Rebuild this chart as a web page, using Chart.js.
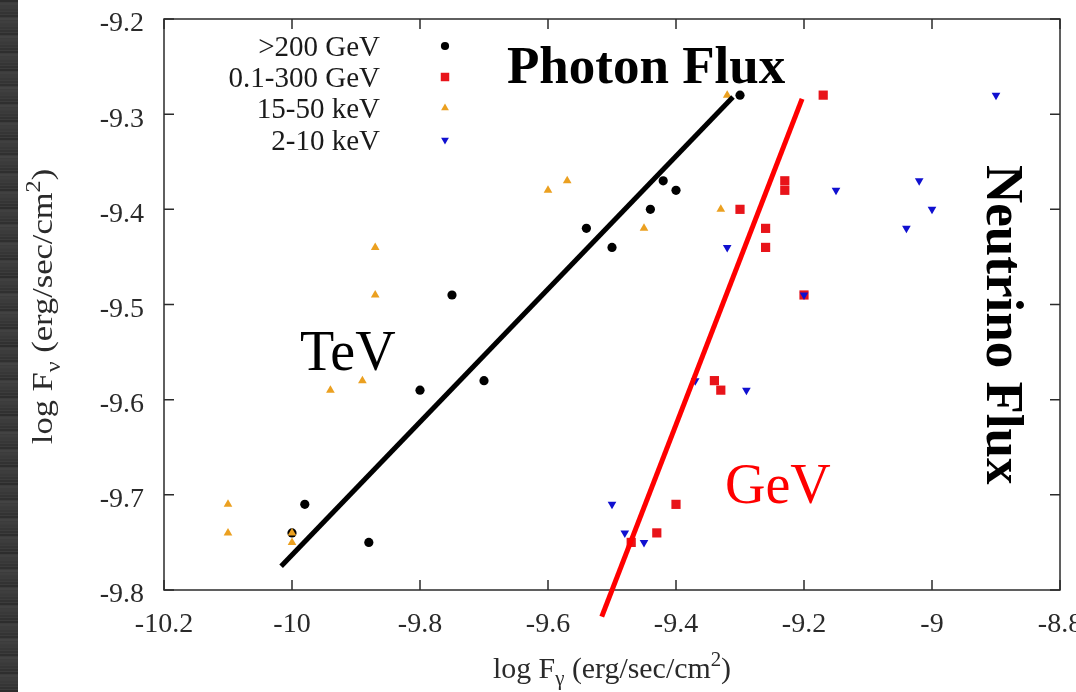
<!DOCTYPE html>
<html lang="en">
  <head>
    <meta charset="UTF-8" />
    <meta name="viewport" content="width=device-width, initial-scale=1.0" />
    <script src="https://cdn.jsdelivr.net/npm/chart.js@4.4.1/dist/chart.umd.min.js"></script>
    <title>Photon flux vs neutrino flux</title>
    <style>
      html, body { margin: 0; padding: 0; background: #fff; overflow: hidden; }
    </style>
  </head>
  <body>
    <canvas id="myChart" width="1076" height="692"></canvas>
    <script>
      // values (log F_gamma, log F_nu)
      // >200 GeV
      const tevX = [-9.30, -9.42, -9.40, -9.44, -9.54, -9.50, -9.75, -9.80, -9.70, -9.98, -10.0, -9.88];
      const tevY = [-9.28, -9.37, -9.38, -9.40, -9.42, -9.44, -9.49, -9.59, -9.58, -9.71, -9.74, -9.75];
      // 0.1-300 GeV
      const gevX = [-9.17, -9.23, -9.23, -9.30, -9.26, -9.26, -9.20, -9.34, -9.33, -9.40, -9.43, -9.47];
      const gevY = [-9.28, -9.37, -9.38, -9.40, -9.42, -9.44, -9.49, -9.58, -9.59, -9.71, -9.74, -9.75];
      // 15-50 keV
      const hardX = [-9.32, -9.60, -9.57, -9.33, -9.45, -9.87, -9.87, -9.94, -9.89, -10.1, -10.1, -10.0, -10.0];
      const hardY = [-9.28, -9.38, -9.37, -9.40, -9.42, -9.44, -9.49, -9.59, -9.58, -9.71, -9.74, -9.74, -9.75];
      // 2-10 keV
      const softX = [-8.90, -9.15, -9.02, -9.00, -9.04, -9.32, -9.20, -9.37, -9.29, -9.50, -9.48, -9.45];
      const softY = [-9.28, -9.38, -9.37, -9.40, -9.42, -9.44, -9.49, -9.58, -9.59, -9.71, -9.74, -9.75];

      // fitted lines (end points)
      const tevLineX = [-10.017, -9.311];
      const tevLineY = [-9.775, -9.282];
      const gevLineX = [-9.516, -9.203];
      const gevLineY = [-9.828, -9.284];

      const seriesNames = [">200 GeV", "0.1-300 GeV", "15-50 keV", "2-10 keV"];
      const xTicks = [-10.2, -10, -9.8, -9.6, -9.4, -9.2, -9, -8.8];
      const xTickLabels = ["-10.2", "-10", "-9.8", "-9.6", "-9.4", "-9.2", "-9", "-8.8"];
      const yTicks = [-9.2, -9.3, -9.4, -9.5, -9.6, -9.7, -9.8];
      const yTickLabels = ["-9.2", "-9.3", "-9.4", "-9.5", "-9.6", "-9.7", "-9.8"];

      function pts(xs, ys) {
        return xs.map((x, i) => ({ x: x, y: ys[i] }));
      }

      const serif = '"Liberation Serif", "Times New Roman", serif';

      const styles = [
        { pointStyle: "circle", radius: 4.6, rotation: 0, color: "#000000" },
        { pointStyle: "rect", radius: 6.5, rotation: 0, color: "#e8141a" },
        { pointStyle: "triangle", radius: 5, rotation: 0, color: "#eba020" },
        { pointStyle: "triangle", radius: 5, rotation: 180, color: "#1010d0" },
      ];

      function pointSet(label, data, st, order) {
        return {
          type: "scatter",
          label: label,
          data: data,
          order: order,
          pointStyle: st.pointStyle,
          pointRadius: st.radius,
          pointRotation: st.rotation,
          pointBackgroundColor: st.color,
          pointBorderColor: st.color,
          pointBorderWidth: 0,
        };
      }

      function fitLine(label, data, color) {
        return {
          type: "line",
          label: label,
          data: data,
          order: 0,
          borderColor: color,
          borderWidth: 5,
          pointRadius: 0,
          showLine: true,
          clip: false,
          borderCapStyle: "butt",
        };
      }

      // draw text made of pieces (plain / sub / sup), centred on 0
      function richText(ctx, parts, size, stretch) {
        let w = 0;
        parts.forEach((p) => {
          ctx.font = (p.sub || p.sup ? size * 0.7 : size) + "px " + serif;
          p.w = ctx.measureText(p.t).width;
          w += p.w;
        });
        ctx.save();
        ctx.scale(stretch, 1);
        let x = -w / 2;
        parts.forEach((p) => {
          ctx.font = (p.sub || p.sup ? size * 0.7 : size) + "px " + serif;
          let dy = p.sub ? size * 0.25 : p.sup ? -size * 0.4 : 0;
          ctx.fillText(p.t, x, dy);
          x += p.w;
        });
        ctx.restore();
      }

      const decor = {
        id: "decor",
        beforeDatasetsDraw(chart) {
          const ctx = chart.ctx;
          const a = chart.chartArea;
          const sx = chart.scales.x;
          const sy = chart.scales.y;
          ctx.save();
          ctx.strokeStyle = "#2b2b2b";
          ctx.lineWidth = 1.5;
          ctx.strokeRect(a.left, a.top, a.right - a.left, a.bottom - a.top);
          ctx.beginPath();
          xTicks.forEach((v) => {
            const px = sx.getPixelForValue(v);
            ctx.moveTo(px, a.bottom);
            ctx.lineTo(px, a.bottom - 10);
            ctx.moveTo(px, a.top);
            ctx.lineTo(px, a.top + 10);
          });
          yTicks.forEach((v) => {
            const py = sy.getPixelForValue(v);
            ctx.moveTo(a.left, py);
            ctx.lineTo(a.left + 10, py);
            ctx.moveTo(a.right, py);
            ctx.lineTo(a.right - 10, py);
          });
          ctx.stroke();

          // tick labels
          ctx.fillStyle = "#2a2a2a";
          ctx.font = "28px " + serif;
          ctx.textBaseline = "middle";
          ctx.textAlign = "center";
          xTicks.forEach((v, i) => {
            ctx.fillText(xTickLabels[i], sx.getPixelForValue(v), a.bottom + 35);
          });
          ctx.textAlign = "right";
          yTicks.forEach((v, i) => {
            ctx.fillText(yTickLabels[i], a.left - 20, sy.getPixelForValue(v) + 5);
          });

          // axis titles
          ctx.textAlign = "left";
          ctx.textBaseline = "alphabetic";
          ctx.save();
          ctx.translate((a.left + a.right) / 2, 678);
          richText(ctx, [{ t: "log F" }, { t: "\u03b3", sub: true }, { t: " (erg/sec/cm" }, { t: "2", sup: true }, { t: ")" }], 29, 1.03);
          ctx.restore();
          ctx.save();
          ctx.translate(52, (a.top + a.bottom) / 2 + 2);
          ctx.rotate(-Math.PI / 2);
          richText(ctx, [{ t: "log F" }, { t: "\u03bd", sub: true }, { t: " (erg/sec/cm" }, { t: "2", sup: true }, { t: ")" }], 30, 1.15);
          ctx.restore();

          // legend
          const rows = [46, 77, 108, 140];
          ctx.font = "29px " + serif;
          ctx.textAlign = "right";
          ctx.textBaseline = "middle";
          seriesNames.forEach((name, i) => {
            ctx.fillStyle = "#1a1a1a";
            ctx.fillText(name, 380, rows[i] + 2);
            ctx.fillStyle = styles[i].color;
            Chart.helpers.drawPoint(ctx, { pointStyle: styles[i].pointStyle, radius: styles[i].radius - 0.5, rotation: styles[i].rotation, borderWidth: 0 }, 445, rows[i]);
          });
          ctx.restore();
        },
        afterDraw(chart) {
          const ctx = chart.ctx;
          ctx.save();
          // dark strip at the left edge of the scan
          ctx.fillStyle = "#3c3c3c";
          ctx.fillRect(0, 0, 18, chart.height);
          for (let y = 0; y < chart.height; y += 3) {
            const g = 45 + ((y * 37) % 23);
            ctx.fillStyle = "rgb(" + g + "," + g + "," + g + ")";
            ctx.fillRect(0, y, 18, 2);
          }

          ctx.fillStyle = "#000";
          ctx.textAlign = "left";
          ctx.textBaseline = "alphabetic";
          ctx.font = "bold 53px " + serif;
          ctx.fillText("Photon Flux", 507, 83);
          ctx.font = "56px " + serif;
          ctx.fillText("TeV", 300, 370);
          ctx.fillStyle = "#ff0000";
          ctx.fillText("GeV", 725, 503);
          ctx.fillStyle = "#000";
          ctx.save();
          ctx.translate(987, 165);
          ctx.rotate(Math.PI / 2);
          ctx.font = "bold 53px " + serif;
          ctx.fillText("Neutrino Flux", 0, 0);
          ctx.restore();
          ctx.restore();
        },
      };

      const config = {
        data: {
          datasets: [
            fitLine("TeV fit", pts(tevLineX, tevLineY), "#000000"),
            fitLine("GeV fit", pts(gevLineX, gevLineY), "#ff0000"),
            pointSet(seriesNames[0], pts(tevX, tevY), styles[0], 4),
            pointSet(seriesNames[1], pts(gevX, gevY), styles[1], 3),
            pointSet(seriesNames[2], pts(hardX, hardY), styles[2], 2),
            pointSet(seriesNames[3], pts(softX, softY), styles[3], 1),
          ],
        },
        options: {
          responsive: false,
          animation: false,
          layout: { padding: { left: 164, top: 19, right: 16, bottom: 102 } },
          scales: {
            x: { type: "linear", min: -10.2, max: -8.8, display: false },
            y: { type: "linear", min: -9.8, max: -9.2, display: false },
          },
          plugins: {
            legend: { display: false },
            tooltip: { enabled: false },
          },
        },
        plugins: [decor],
      };

      new Chart(document.getElementById("myChart"), config);
    </script>
  </body>
</html>
